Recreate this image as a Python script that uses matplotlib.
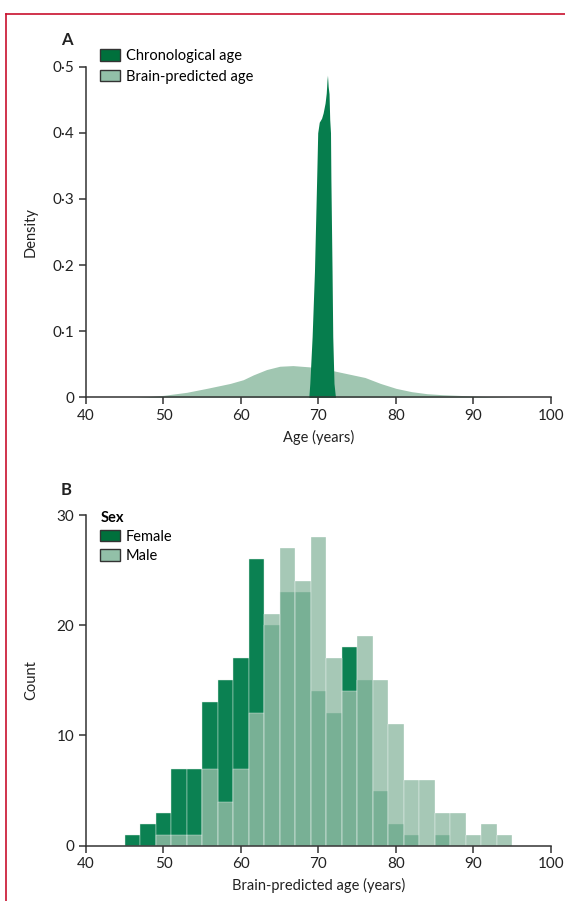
import matplotlib
matplotlib.use("Agg")
import matplotlib.pyplot as plt
import matplotlib.patches as mpatches
from matplotlib.lines import Line2D
import numpy as np

plt.rcParams['font.family'] = ['Lato', 'DejaVu Sans']

# --- panel A: densities ---
chrono_age = [68.75, 68.88, 69.18, 69.48, 69.79, 69.9, 70.1, 70.4, 70.6, 70.85,
              71.0, 71.1, 71.16, 71.25, 71.36, 71.45, 71.55, 71.6, 71.75, 71.84,
              72.0, 72.19]
chrono_dens = [0.0, 0.021, 0.092, 0.19, 0.343, 0.40, 0.416, 0.422, 0.43, 0.445,
               0.46, 0.48, 0.487, 0.47, 0.459, 0.42, 0.40, 0.33, 0.19, 0.092,
               0.021, 0.0]

brain_age = [46.4, 48, 50, 53, 55.6, 58.6, 60.3, 61.6, 63.3, 65, 66.7, 68.9,
             70, 72, 74, 76, 78, 80, 82, 84, 86, 88, 90, 92, 94, 95]
brain_dens = [0.0, 0.001, 0.003, 0.0076, 0.0136, 0.021, 0.0267, 0.034, 0.042,
              0.047, 0.048, 0.046, 0.043, 0.040, 0.035, 0.030, 0.021, 0.0136,
              0.0086, 0.0055, 0.004, 0.003, 0.002, 0.001, 0.0003, 0.0]

dens_ticks = [0, 0.1, 0.2, 0.3, 0.4, 0.5]
dens_labels = ["0", "0·1", "0·2", "0·3", "0·4", "0·5"]
age_ticks = [40, 50, 60, 70, 80, 90, 100]

# --- panel B: histogram counts per 2-year bin (45-47 ... 93-95) ---
bin_left = [45, 47, 49, 51, 53, 55, 57, 59, 61, 63, 65, 67, 69, 71, 73, 75,
            77, 79, 81, 83, 85, 87, 89, 91, 93]
female = [1, 2, 3, 7, 7, 13, 15, 17, 26, 20, 23, 23, 14, 12, 18, 15,
          5, 2, 1, 0, 1, 0, 0, 0, 0]
male = [0, 0, 1, 1, 1, 7, 4, 7, 12, 21, 27, 24, 28, 17, 14, 19,
        15, 11, 6, 6, 3, 3, 1, 2, 1]
count_ticks = [0, 10, 20, 30]

dark = '#067d4d'
light = '#a0c6b1'
fem_col = '#0b8152'
male_col = '#92bca6'
axcol = '#333333'
txtcol = '#222222'

fig = plt.figure(figsize=(5.65, 9.01), dpi=100)

def style_axes(ax):
    for s in ['top', 'right']:
        ax.spines[s].set_visible(False)
    for s in ['left', 'bottom']:
        ax.spines[s].set_color(axcol)
        ax.spines[s].set_linewidth(1.1)
    ax.tick_params(colors=axcol, labelcolor=txtcol, labelsize=11,
                   length=5, width=1.1, direction='out')

# panel A
axA = fig.add_axes([0.1522, 0.559, 0.823, 0.367])
axA.fill_between(brain_age, brain_dens, color=light, linewidth=0)
axA.fill_between(chrono_age, chrono_dens, color=dark, linewidth=0)
axA.set_xlim(40, 100)
axA.set_ylim(0, 0.5)
axA.set_xticks(age_ticks)
axA.set_yticks(dens_ticks)
axA.set_yticklabels(dens_labels)
axA.set_xlabel("Age (years)", fontsize=10.5, color=txtcol, labelpad=5)
axA.set_ylabel("Density", fontsize=10.5, color=txtcol, labelpad=11)
style_axes(axA)
handlesA = [mpatches.Patch(facecolor='#00703c', edgecolor='#333333', label='Chronological age'),
            mpatches.Patch(facecolor='#92c0a8', edgecolor='#333333', label='Brain-predicted age')]
axA.legend(handles=handlesA, loc='upper left', bbox_to_anchor=(0.012, 1.08),
           frameon=False, fontsize=10.5, handlelength=1.35, handleheight=0.85,
           handletextpad=0.4, labelspacing=0.45, borderaxespad=0.2)
fig.text(0.108, 0.9505, "A", fontsize=12, fontweight='bold', color=txtcol)

# panel B
axB = fig.add_axes([0.1522, 0.0614, 0.823, 0.367])
axB.bar(bin_left, female, width=2, align='edge', color=fem_col,
        edgecolor='#dfeee6', linewidth=0.3)
axB.bar(bin_left, male, width=2, align='edge', color=male_col, alpha=0.81,
        edgecolor='#ffffff', linewidth=0.3)
axB.set_xlim(40, 100)
axB.set_ylim(0, 30)
axB.set_xticks(age_ticks)
axB.set_yticks(count_ticks)
axB.set_xlabel("Brain-predicted age (years)", fontsize=10.5, color=txtcol, labelpad=5)
axB.set_ylabel("Count", fontsize=10.5, color=txtcol, labelpad=13)
style_axes(axB)
handlesB = [mpatches.Patch(facecolor='#00703c', edgecolor='#333333', label='Female'),
            mpatches.Patch(facecolor='#92c0a8', edgecolor='#333333', label='Male')]
legB = axB.legend(handles=handlesB, title="Sex", loc='upper left',
                  bbox_to_anchor=(0.012, 1.04), frameon=False, fontsize=10.5,
                  title_fontsize=10.5, handlelength=1.35, handleheight=0.85,
                  handletextpad=0.4, labelspacing=0.35, borderaxespad=0.2)
legB.get_title().set_fontweight('bold')
legB._legend_box.align = 'left'
fig.text(0.108, 0.4505, "B", fontsize=12, fontweight='bold', color=txtcol)

# red frame lines
fig.add_artist(Line2D([6 / 565, 6 / 565], [0, 1 - 14 / 901], color='#c8102e', linewidth=1.2))
fig.add_artist(Line2D([6 / 565, 1], [1 - 14 / 901, 1 - 14 / 901], color='#c8102e', linewidth=1.2))

fig.savefig("out.png", dpi=100)
